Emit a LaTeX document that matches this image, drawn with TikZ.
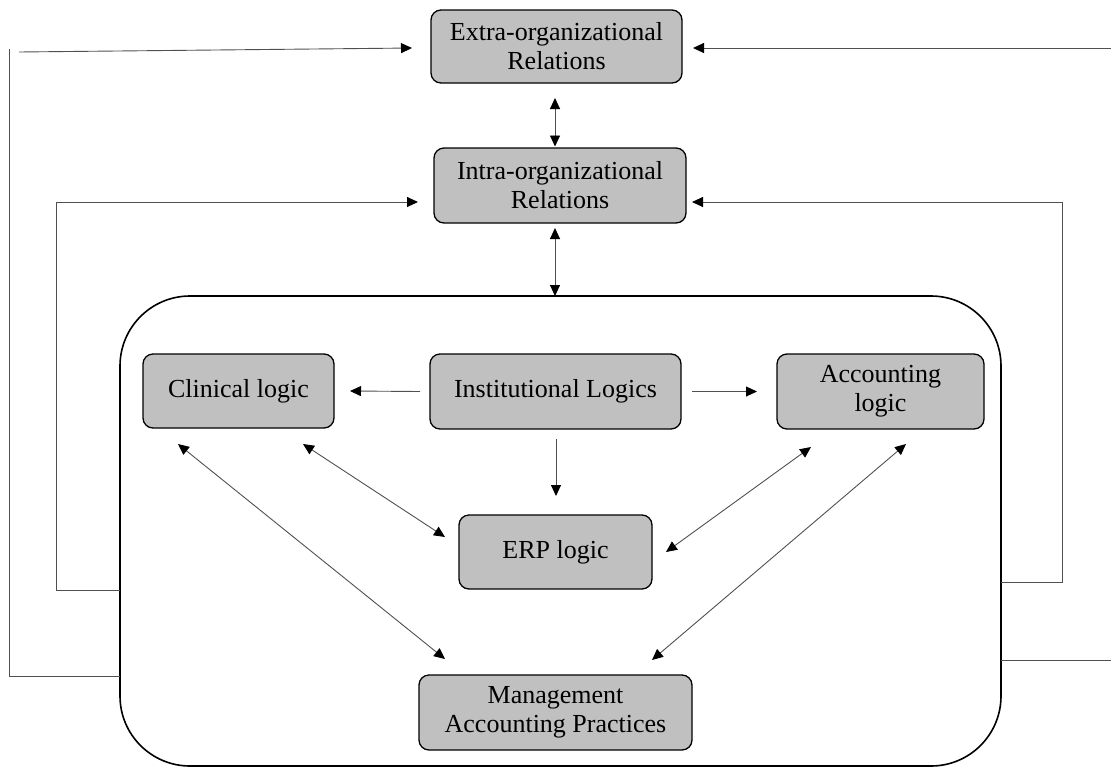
\documentclass[tikz,border=0pt]{standalone}
\usepackage{fontspec}
\setmainfont{Liberation Serif}
\usetikzlibrary{arrows.meta,calc}
\definecolor{boxgray}{RGB}{192,192,192}
\definecolor{linegray}{RGB}{80,80,80}
\begin{document}
\begin{tikzpicture}[x=1pt,y=-1pt,
  box/.style={draw=black, line width=1.3pt, fill=boxgray, rounded corners=10pt,
    inner sep=0pt, outer sep=0pt, align=center, font=\fontsize{26}{29}\selectfont},
  framebox/.style={draw=black, line width=1.6pt, rounded corners=70pt, inner sep=0pt, outer sep=0pt},
  conn/.style={draw=linegray, line width=0.9pt},
  tip/.tip={Triangle[length=11pt,width=10pt,color=black]},
  arr/.style={conn, -tip},
  dbl/.style={conn, tip-tip}]
\useasboundingbox (0,0) rectangle (1111,766);

% frame
\node[framebox, minimum width=881pt, minimum height=470pt] (frame) at (560.5,531) {};

% boxes
\node[box, minimum width=251pt, minimum height=73pt] (extra) at (556.5,46.5) {Extra-organizational\\Relations};
\node[box, minimum width=252pt, minimum height=75pt] (intra) at (560,185.5) {Intra-organizational\\Relations};
\node[box, minimum width=191pt, minimum height=74pt] (clin) at (238.5,391) {Clinical logic};
\node[box, minimum width=251pt, minimum height=75pt] (inst) at (555.5,391.5) {Institutional Logics};
\node[box, minimum width=207pt, minimum height=75pt] (acc) at (880.5,391.5) {Accounting\\logic};
\node[box, minimum width=193pt, minimum height=74pt] (erp) at (555.5,552) {ERP logic};
\node[box, minimum width=273pt, minimum height=75pt] (map) at (555.5,712.5) {Management\\Accounting Practices};

% free-end coordinates
\coordinate (l1) at (56,590);
\coordinate (l2) at (9,676);
\coordinate (l3) at (9,49);
\coordinate (l4) at (19,52);
\coordinate (r1) at (1062,582);
\coordinate (r2) at (1111,660);
\coordinate (r3) at (1111,48);

% vertical connectors
\draw[dbl] ([shift={(-1.5,15)}]extra.south) -- ([shift={(-5,-1.5)}]intra.north);
\draw[dbl] ([shift={(-5,5)}]intra.south) -- ([xshift=-5pt]intra.south |- frame.north);

% institutional logics
\draw[arr] ([xshift=-10pt]inst.west) -- ([xshift=16pt]clin.east);
\draw[arr] ([xshift=11pt]inst.east) -- ([xshift=-20pt]acc.west);
\draw[arr] ([shift={(0.5,10)}]inst.south) -- ([shift={(0.5,-19)}]erp.north);

% diagonals
\draw[dbl] ([shift={(160,16)}]clin.south west) -- ([shift={(-14,-15)}]erp.west);
\draw[dbl] ([shift={(35,16)}]clin.south west) -- ([shift={(26,-16)}]map.north west);
\draw[dbl] ([shift={(34,18)}]acc.south west) -- ([shift={(14,0)}]erp.east);
\draw[dbl] ([shift={(129,15)}]acc.south west) -- ([shift={(-40,-15)}]map.north east);

% outer feedback lines
\draw[conn] (frame.west |- l2) -- (l2) -- (l3);
\draw[arr] (l4) -- ([shift={(-19,1.5)}]extra.west);
\draw[arr] (r3) -- ([shift={(11,1.5)}]extra.east);
\draw[arr] (frame.west |- l1) -- (l1) |- ([shift={(-16,16.5)}]intra.west);
\draw[arr] (frame.east |- r1) -- (r1) |- ([shift={(6,16.5)}]intra.east);
\draw[conn] (frame.east |- r2) -- (r2);
\end{tikzpicture}
\end{document}
